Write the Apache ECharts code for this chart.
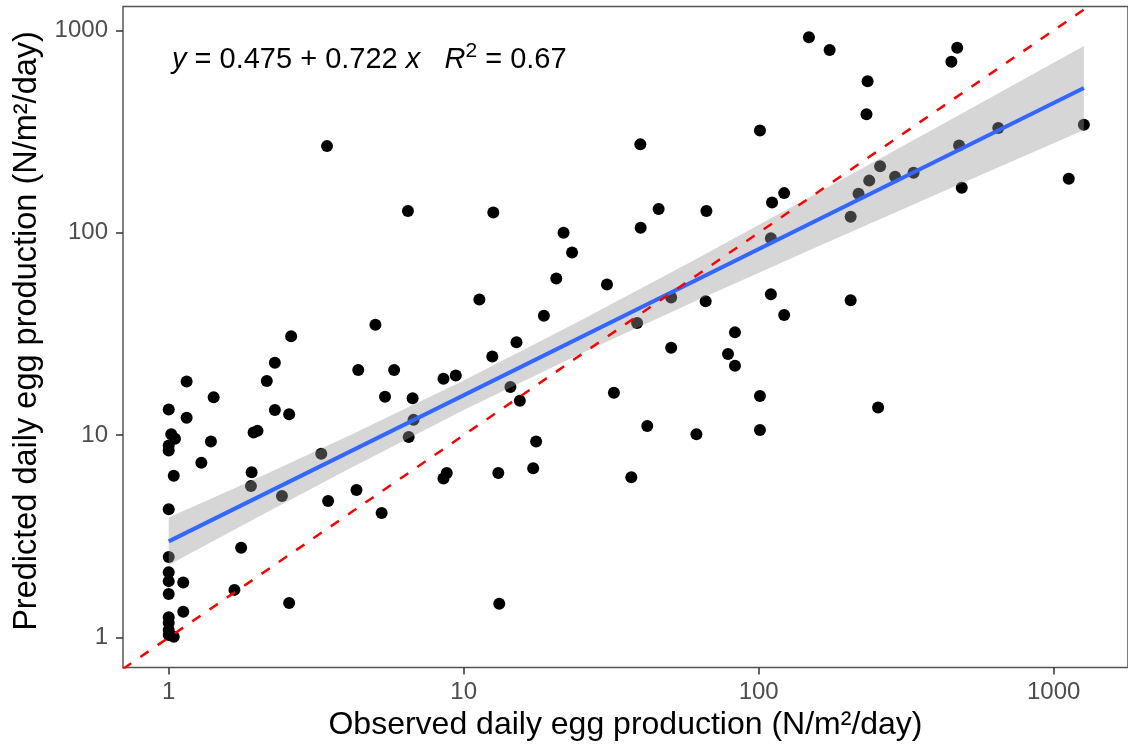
<!DOCTYPE html>
<html>
<head>
<meta charset="utf-8">
<script src="https://cdn.jsdelivr.net/npm/echarts@6/dist/echarts.min.js"></script>
<style>
  html, body { margin: 0; padding: 0; background: #ffffff; }
  #chart { width: 1128px; height: 748px; }
</style>
</head>
<body>
<div id="chart"></div>
<script>
// Observed vs predicted daily egg production (N/m²/day), one entry per site
const observed = [
  1, 1.02, 1.05, 1, 1, 1.04, 1, 1, 1, 1, 1, 1, 1, 1, 1, 1.04,
  1.15, 1.15, 1.12, 1.12, 1.29, 1.39, 1.42, 1.67, 1.76, 1.91, 1.90, 1.94, 2.0, 2.15,
  2.29, 2.29, 2.56, 2.60, 2.56, 2.42, 3.29, 3.47, 3.44, 4.33, 4.39, 5.02, 5.27, 5.41,
  5.81, 6.47, 6.51, 6.71, 6.76, 8.54, 9.40, 8.76, 8.54, 11.3, 12.6, 12.5, 13.1, 13.2,
  14.4, 15.1, 15.5, 17.2, 17.6, 18.7, 20.6, 21.8, 23.3, 30.6, 32.3, 37.0, 38.7, 39.7,
  39.8, 41.9, 45.8, 50.5, 50.5, 61.5, 66.1, 66.5, 78.7, 83.1, 83.1, 101, 101, 101,
  110, 111, 110, 122, 122, 148, 174, 205, 205, 218, 232, 234, 237, 254, 258, 290,
  335, 450, 471, 478, 488, 649, 1125, 1266
];
const predicted = [
  13.4, 10.1, 9.6, 8.9, 8.4, 6.3, 4.3, 2.5, 2.1, 1.9, 1.64, 1.26, 1.18, 1.09, 1.03, 1.01,
  18.4, 12.2, 1.87, 1.34, 7.3, 9.3, 15.4, 1.72, 2.78, 6.55, 5.6, 10.3, 10.5, 18.5,
  22.8, 13.3, 12.7, 30.8, 1.48, 5.0, 8.1, 4.73, 268, 5.36, 21.0, 35.1, 4.12, 15.5,
  21.0, 128, 9.8, 15.2, 11.9, 19.0, 19.7, 6.5, 6.1, 46.8, 126, 24.5, 6.5, 1.47,
  17.3, 28.8, 14.8, 6.86, 9.3, 38.9, 59.4, 100, 80, 55.5, 16.2, 6.2, 35.8, 274,
  106, 11.1, 131, 47.9, 27.0, 10.1, 45.9, 128, 25.2, 32.2, 22.0, 320, 15.6, 10.6,
  49.7, 141, 94, 157, 39.2, 926, 799, 120, 46.4, 156, 385, 560, 181, 13.7, 213, 189,
  198, 700, 821, 270, 167, 329, 185, 342
];

// Fitted log10-log10 regression and its 95% confidence band
const fitIntercept = 0.475;
const fitSlope = 0.722;
const fitR2 = 0.67;
const bandObserved = [1, 2, 4, 10, 25, 63, 158, 398, 1266];
const bandLower = [2.28, 3.93, 6.71, 13.3, 25.3, 46.9, 85.2, 154, 322];
const bandUpper = [3.92, 6.15, 9.78, 18.6, 37.0, 75.6, 157, 329, 837];

// Axis tick labels (log10 scale)
const tickLabels = [1, 10, 100, 1000];

const lg = Math.log10;
// axis limits, in log10 units
const xMin = -0.155, xMax = 3.252;
const yMin = -0.148, yMax = 3.118;

const FONT = '"Liberation Sans", Arial, Helvetica, sans-serif';

const points = observed.map((o, i) => [lg(o), lg(predicted[i])]);
const xLo = Math.min(...observed), xHi = Math.max(...observed);
const fitLine = [xLo, xHi].map(x => [lg(x), fitIntercept + fitSlope * lg(x)]);
const oneToOne = [[xMin, xMin], [xMax, xMax]];
const tickPos = tickLabels.map(lg);

const chart = echarts.init(document.getElementById('chart'), null, { renderer: 'canvas' });

const axisCommon = {
  type: 'value',
  axisLine: { show: false, onZero: false },
  splitLine: { show: false },
  axisTick: { show: true, customValues: tickPos, length: 7, lineStyle: { color: '#333333', width: 1.5 } },
  axisLabel: {
    customValues: tickPos,
    formatter: v => String(Math.round(Math.pow(10, v))),
    color: '#4d4d4d', fontSize: 24, fontFamily: FONT
  },
  nameLocation: 'middle',
  nameTextStyle: { color: '#000000', fontSize: 32, fontFamily: FONT }
};

chart.setOption({
  animation: false,
  backgroundColor: '#ffffff',
  grid: {
    left: 123, top: 6.5, width: 1010, height: 661,
    show: true, borderColor: '#555555', borderWidth: 1.5, backgroundColor: 'transparent'
  },
  xAxis: Object.assign({}, axisCommon, {
    min: xMin, max: xMax,
    axisLabel: Object.assign({}, axisCommon.axisLabel, { margin: 13 }),
    name: 'Observed daily egg production (N/m²/day)',
    nameGap: 40
  }),
  yAxis: Object.assign({}, axisCommon, {
    min: yMin, max: yMax,
    axisLabel: Object.assign({}, axisCommon.axisLabel, { margin: 15 }),
    name: 'Predicted daily egg production (N/m²/day)',
    nameGap: 78,
    nameTextStyle: Object.assign({}, axisCommon.nameTextStyle, { fontSize: 32.5, padding: [0, 0, 0, 12] })
  }),
  graphic: [{
    type: 'text',
    left: 172, top: 41,
    z: 10,
    style: {
      text: '{i|y} = ' + fitIntercept.toFixed(3) + ' + ' + fitSlope.toFixed(3) + ' {i|x}   {i|R}{s|2} = ' + fitR2.toFixed(2),
      fill: '#000000',
      font: '29px ' + FONT,
      lineHeight: 37,
      rich: {
        i: { fontStyle: 'italic', fontSize: 29, fontFamily: FONT, lineHeight: 37, fill: '#000000' },
        s: { fontSize: 21, fontFamily: FONT, lineHeight: 12, verticalAlign: 'top', fill: '#000000' }
      }
    }
  }],
  series: [
    {
      type: 'scatter',
      data: points,
      symbol: 'circle',
      symbolSize: 12,
      itemStyle: { color: '#000000', opacity: 1 },
      z: 2,
      silent: true
    },
    {
      type: 'custom',
      data: [[0, 0]],
      z: 3,
      silent: true,
      renderItem: (params, api) => {
        const upper = bandObserved.map((x, i) => api.coord([lg(x), lg(bandUpper[i])]));
        const lower = bandObserved.map((x, i) => api.coord([lg(x), lg(bandLower[i])])).reverse();
        return {
          type: 'polygon',
          shape: { points: upper.concat(lower) },
          style: { fill: 'rgba(153,153,153,0.4)', stroke: null }
        };
      }
    },
    {
      type: 'line',
      data: fitLine,
      showSymbol: false,
      lineStyle: { color: '#3366FF', width: 4 },
      z: 4,
      silent: true
    },
    {
      type: 'line',
      data: oneToOne,
      showSymbol: false,
      clip: true,
      lineStyle: { color: '#FF0000', width: 2.5, type: [10, 11] },
      z: 5,
      silent: true
    }
  ]
});
</script>
</body>
</html>
